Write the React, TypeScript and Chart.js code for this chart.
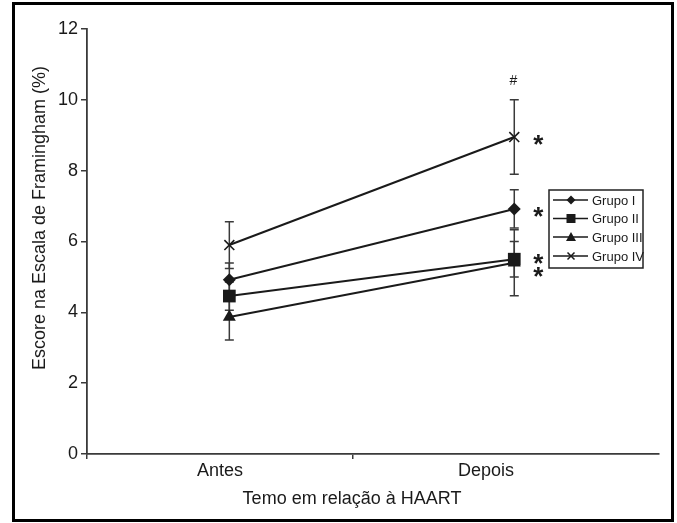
import React, { useEffect, useRef } from 'react';
import { Chart, registerables } from 'chart.js';
Chart.register(...registerables);

const groups = ['Grupo I', 'Grupo II', 'Grupo III', 'Grupo IV'];
const periods = ['Antes', 'Depois'];
const periodTicks = [0.5, 1.5];
const axisTicks = [0, 0.5, 1, 1.5];
const measureTimes = [0.535, 1.606];
const grupoI = [4.92, 6.92];
const grupoII = [4.46, 5.5];
const grupoIII = [3.87, 5.4];
const grupoIV = [5.9, 8.95];
const erroI = [0.47, 0.54];
const erroII = [0.4, 0.5];
const erroIII = [0.65, 0.93];
const erroIV = [0.66, 1.05];
const significance = ['*', '*', '*', '*'];
const groupMark = '#';
const yTitle = 'Escore na Escala de Framingham (%)';
const xTitle = 'Temo em relação à HAART';

const FONT = '"Liberation Sans", Arial, sans-serif';
const INK = '#1a1a1a';
const AXIS = '#3a3a3a';

const styles = ['rectRot', 'rect', 'triangle', 'crossRot'];
const radii = [6.5, 9, 7.5, 7];

function drawMarker(ctx: CanvasRenderingContext2D, style: string, x: number, y: number, s: number) {
  ctx.beginPath();
  if (style === 'rectRot') {
    ctx.moveTo(x, y - s); ctx.lineTo(x + s, y); ctx.lineTo(x, y + s); ctx.lineTo(x - s, y); ctx.closePath(); ctx.fill();
  } else if (style === 'rect') {
    ctx.rect(x - s, y - s, 2 * s, 2 * s); ctx.fill();
  } else if (style === 'triangle') {
    ctx.moveTo(x, y - s); ctx.lineTo(x + s, y + s * 0.8); ctx.lineTo(x - s, y + s * 0.8); ctx.closePath(); ctx.fill();
  } else {
    ctx.moveTo(x - s, y - s); ctx.lineTo(x + s, y + s); ctx.moveTo(x + s, y - s); ctx.lineTo(x - s, y + s); ctx.stroke();
  }
}

const errorBars = {
  id: 'errorBars',
  beforeDatasetsDraw(chart: any) {
    const ctx = chart.ctx;
    const ys = chart.scales.y;
    chart.data.datasets.forEach((ds: any, i: number) => {
      const meta = chart.getDatasetMeta(i);
      meta.data.forEach((pt: any, j: number) => {
        const v = ds.data[j].y;
        const e = ds.errors[j];
        const top = ys.getPixelForValue(v + e);
        const bot = ys.getPixelForValue(v - e);
        ctx.save();
        ctx.strokeStyle = AXIS;
        ctx.lineWidth = 1.5;
        ctx.beginPath();
        ctx.moveTo(pt.x, top); ctx.lineTo(pt.x, bot);
        ctx.moveTo(pt.x - 4.5, top); ctx.lineTo(pt.x + 4.5, top);
        ctx.moveTo(pt.x - 4.5, bot); ctx.lineTo(pt.x + 4.5, bot);
        ctx.stroke();
        ctx.restore();
      });
    });
  },
};

const decorations = {
  id: 'decorations',
  afterDraw(chart: any) {
    const ctx = chart.ctx;
    const ys = chart.scales.y;
    ctx.save();
    // outer frame
    ctx.strokeStyle = '#000';
    ctx.lineWidth = 3;
    ctx.strokeRect(13.5, 3.5, 659, 517);

    // significance marks
    ctx.fillStyle = INK;
    ctx.font = `bold 26px ${FONT}`;
    ctx.textAlign = 'center';
    ctx.textBaseline = 'alphabetic';
    const starOffsets = [0, -3, 6, 0];
    chart.data.datasets.forEach((ds: any, i: number) => {
      const meta = chart.getDatasetMeta(i);
      const pt = meta.data[1];
      ctx.fillText(significance[i], pt.x + 24, pt.y + 16 + starOffsets[i]);
    });
    // # above group IV
    const ivMeta = chart.getDatasetMeta(3);
    const ivPt = ivMeta.data[1];
    const ivTop = ys.getPixelForValue(grupoIV[1] + erroIV[1]);
    ctx.font = `14px ${FONT}`;
    ctx.textBaseline = 'middle';
    ctx.fillText(groupMark, ivPt.x - 1, ivTop - 19);

    // axis titles
    ctx.font = `18px ${FONT}`;
    ctx.fillStyle = INK;
    ctx.textBaseline = 'alphabetic';
    ctx.fillText(xTitle, 352, 504);
    ctx.save();
    ctx.translate(45, 218);
    ctx.rotate(-Math.PI / 2);
    ctx.fillText(yTitle, 0, 0);
    ctx.restore();

    // legend
    const bx = 549, by = 190, bw = 94, bh = 78;
    ctx.strokeStyle = '#222';
    ctx.lineWidth = 1.5;
    ctx.strokeRect(bx, by, bw, bh);
    const rows = [200, 218.5, 237, 256];
    const lsz = [4.5, 4.5, 5, 3.5];
    ctx.font = `13px ${FONT}`;
    ctx.textAlign = 'left';
    ctx.textBaseline = 'middle';
    groups.forEach((g, i) => {
      const y = rows[i];
      ctx.strokeStyle = INK;
      ctx.fillStyle = INK;
      ctx.lineWidth = 1.5;
      ctx.beginPath();
      ctx.moveTo(553, y); ctx.lineTo(588, y); ctx.stroke();
      drawMarker(ctx, styles[i], 571, y, lsz[i]);
      ctx.fillText(g, 592, y + 1);
    });
    ctx.restore();
  },
};

export default function App() {
  const ref = useRef<HTMLCanvasElement>(null);
  useEffect(() => {
    if (!ref.current) return;
    const series = [grupoI, grupoII, grupoIII, grupoIV];
    const errs = [erroI, erroII, erroIII, erroIV];
    const chart = new Chart(ref.current, {
      type: 'line',
      data: {
        datasets: series.map((s, i) => ({
          label: groups[i],
          data: s.map((v, j) => ({ x: measureTimes[j], y: v })),
          errors: errs[i],
          borderColor: INK,
          backgroundColor: INK,
          borderWidth: 2,
          pointStyle: styles[i],
          pointRadius: radii[i],
          pointBorderWidth: i === 3 ? 1.6 : 0,
          pointBorderColor: INK,
          pointBackgroundColor: INK,
          fill: false,
        })) as any,
      },
      options: {
        animation: false,
        responsive: false,
        events: [],
        layout: { padding: { top: 29, right: 18, left: 0, bottom: 0 } },
        plugins: { legend: { display: false }, tooltip: { enabled: false } },
        scales: {
          x: {
            type: 'linear',
            min: 0,
            max: 2.15,
            afterFit: (s: any) => { s.height = 69; },
            afterBuildTicks: (s: any) => { s.ticks = axisTicks.map((v) => ({ value: v })); },
            ticks: {
              autoSkip: false,
              maxRotation: 0,
              padding: 1,
              color: INK,
              font: { family: FONT, size: 18 },
              callback: (v: any) => {
                const k = periodTicks.indexOf(Number(v));
                return k >= 0 ? periods[k] : '';
              },
            },
            grid: {
              drawOnChartArea: false,
              tickLength: 5,
              lineWidth: 1.5,
              color: (c: any) => (c.tick && periodTicks.includes(c.tick.value) ? 'rgba(0,0,0,0)' : AXIS),
            },
            border: { color: AXIS, width: 1.8 },
          },
          y: {
            min: 0,
            max: 12,
            afterFit: (s: any) => { s.width = 87; },
            ticks: { stepSize: 2, padding: 3, color: INK, font: { family: FONT, size: 18 } },
            grid: { drawOnChartArea: false, tickLength: 6, lineWidth: 1.5, color: AXIS },
            border: { color: AXIS, width: 1.8 },
          },
        },
      },
      plugins: [errorBars, decorations],
    });
    return () => chart.destroy();
  }, []);
  return (
    <div style={{ position: 'fixed', left: 0, top: 0, width: 677, height: 523, background: '#fff' }}>
      <canvas ref={ref} width={677} height={523} />
    </div>
  );
}
